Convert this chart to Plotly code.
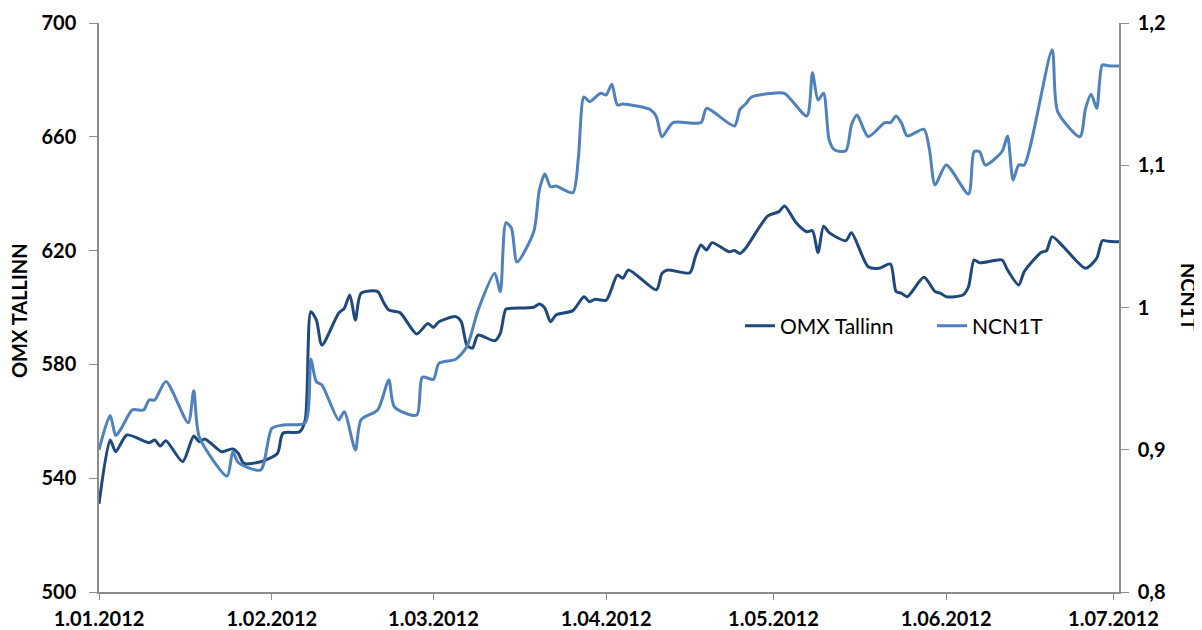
import plotly.graph_objects as go

# ---- data ----
omx_dates = ["2012-01-01","2012-01-03","2012-01-04","2012-01-06","2012-01-10","2012-01-11","2012-01-12","2012-01-13",
             "2012-01-16","2012-01-18","2012-01-19","2012-01-20","2012-01-23","2012-01-25","2012-01-26","2012-01-27",
             "2012-01-30","2012-02-02","2012-02-03","2012-02-06","2012-02-07","2012-02-08","2012-02-09","2012-02-10",
             "2012-02-13","2012-02-14","2012-02-15","2012-02-16","2012-02-17","2012-02-20","2012-02-21","2012-02-22",
             "2012-02-24","2012-02-27","2012-02-29","2012-03-01","2012-03-02","2012-03-05","2012-03-06","2012-03-07",
             "2012-03-08","2012-03-09","2012-03-12","2012-03-13","2012-03-14","2012-03-15","2012-03-19","2012-03-20",
             "2012-03-21","2012-03-22","2012-03-23","2012-03-26","2012-03-28","2012-03-29","2012-03-30","2012-04-01",
             "2012-04-03","2012-04-04","2012-04-05","2012-04-10","2012-04-11","2012-04-12","2012-04-16","2012-04-17",
             "2012-04-18","2012-04-19","2012-04-20","2012-04-23","2012-04-24","2012-04-25","2012-04-26","2012-04-30",
             "2012-05-02","2012-05-03","2012-05-05","2012-05-07","2012-05-08","2012-05-09","2012-05-10","2012-05-11",
             "2012-05-14","2012-05-15","2012-05-18","2012-05-20","2012-05-22","2012-05-23","2012-05-24","2012-05-25",
             "2012-05-28","2012-05-30","2012-05-31","2012-06-01","2012-06-04","2012-06-05","2012-06-06","2012-06-07",
             "2012-06-11","2012-06-12","2012-06-14","2012-06-15","2012-06-18","2012-06-19","2012-06-20","2012-06-22",
             "2012-06-26","2012-06-28","2012-06-29","2012-06-30","2012-07-02"]
omx_values = [531.0,553.4,549.3,555.2,552.5,553.4,551.3,553.2,
              545.8,554.8,552.8,553.8,549.3,550.3,548.7,545.2,
              545.8,548.7,555.8,556.3,560.5,598.5,595.6,586.8,
              598.0,599.7,604.4,595.6,605.0,605.6,602.0,599.1,
              598.2,590.7,594.4,593.0,595.0,596.8,595.0,586.8,
              585.7,590.3,588.3,590.9,599.4,599.7,600.1,601.2,
              599.7,595.0,597.4,598.9,603.8,602.0,602.9,602.6,
              611.4,610.3,613.2,606.2,612.0,613.2,612.2,617.9,
              622.0,620.2,622.8,619.6,620.0,619.0,620.8,632.2,
              633.7,635.7,630.0,626.6,627.0,619.3,628.6,626.3,
              623.5,626.3,614.3,613.8,615.3,605.6,605.0,603.8,
              610.6,605.6,605.0,603.8,604.4,607.3,616.7,615.7,
              616.7,613.2,607.9,612.6,619.3,620.0,624.9,621.4,
              613.8,617.3,623.5,623.3,623.1]

ncn_dates = ["2012-01-01","2012-01-03","2012-01-04","2012-01-05","2012-01-07","2012-01-09","2012-01-10","2012-01-11",
             "2012-01-13","2012-01-17","2012-01-18","2012-01-19","2012-01-24","2012-01-25","2012-01-26","2012-01-30",
             "2012-02-01","2012-02-03","2012-02-07","2012-02-08","2012-02-09","2012-02-10","2012-02-13","2012-02-14",
             "2012-02-16","2012-02-17","2012-02-20","2012-02-22","2012-02-23","2012-02-27","2012-02-28","2012-03-01",
             "2012-03-02","2012-03-05","2012-03-07","2012-03-09","2012-03-12","2012-03-13","2012-03-14","2012-03-15",
             "2012-03-16","2012-03-19","2012-03-20","2012-03-21","2012-03-22","2012-03-23","2012-03-26","2012-03-27",
             "2012-03-28","2012-03-29","2012-03-31","2012-04-01","2012-04-02","2012-04-03","2012-04-04","2012-04-09",
             "2012-04-10","2012-04-11","2012-04-13","2012-04-18","2012-04-19","2012-04-24","2012-04-25","2012-04-26",
             "2012-04-27","2012-05-01","2012-05-03","2012-05-07","2012-05-08","2012-05-09","2012-05-10","2012-05-11",
             "2012-05-12","2012-05-14","2012-05-15","2012-05-16","2012-05-18","2012-05-21","2012-05-22","2012-05-23",
             "2012-05-24","2012-05-25","2012-05-28","2012-05-29","2012-05-30","2012-06-01","2012-06-05","2012-06-06",
             "2012-06-07","2012-06-08","2012-06-11","2012-06-12","2012-06-13","2012-06-14","2012-06-15","2012-06-20",
             "2012-06-21","2012-06-25","2012-06-26","2012-06-27","2012-06-28","2012-06-29","2012-06-30","2012-07-02"]
ncn_values = [0.900,0.924,0.910,0.915,0.928,0.928,0.935,0.935,
              0.948,0.919,0.9415,0.909,0.8815,0.8986,0.891,0.8858,
              0.915,0.9174,0.919,0.9636,0.9478,0.9455,0.921,0.9268,
              0.8998,0.921,0.928,0.949,0.930,0.9244,0.951,0.9495,
              0.9608,0.9636,0.9724,0.998,1.024,1.011,1.0596,1.0557,
              1.032,1.0533,1.0826,1.0939,1.0849,1.0854,1.0807,1.105,
              1.148,1.1447,1.1506,1.1494,1.157,1.1424,1.1431,1.1389,
              1.1341,1.120,1.130,1.130,1.140,1.1276,1.1393,1.143,
              1.1478,1.1506,1.1506,1.1346,1.165,1.1459,1.1506,1.1178,
              1.1107,1.1102,1.1283,1.1353,1.1201,1.130,1.130,1.1346,
              1.1295,1.1206,1.1253,1.1107,1.0861,1.1002,1.0798,1.1095,
              1.1095,1.1002,1.1095,1.1206,1.0896,1.1002,1.1002,1.181,
              1.1377,1.1201,1.140,1.150,1.140,1.1705,1.170,1.1698]

x_tick_vals = ["2012-01-01","2012-02-01","2012-03-01","2012-04-01","2012-05-01","2012-06-01","2012-07-01"]
x_tick_text = ["1.01.2012","1.02.2012","1.03.2012","1.04.2012","1.05.2012","1.06.2012","1.07.2012"]
left_ticks = [500, 540, 580, 620, 660, 700]
right_ticks = [0.8, 0.9, 1.0, 1.1, 1.2]
right_tick_text = ["0,8", "0,9", "1", "1,1", "1,2"]

DARK = "#1F497D"
LIGHT = "#4F81BD"
AXIS = "#8C8C8C"
FONT = "Lato"

fig = go.Figure()
fig.add_trace(go.Scatter(x=omx_dates, y=omx_values, name="OMX Tallinn", mode="lines",
                         line=dict(color=DARK, width=3, shape="spline", smoothing=0.7),
                         yaxis="y", legend="legend"))
fig.add_trace(go.Scatter(x=ncn_dates, y=ncn_values, name="NCN1T", mode="lines",
                         line=dict(color=LIGHT, width=3, shape="spline", smoothing=0.7),
                         yaxis="y2", legend="legend2"))

tickfont = dict(size=20, family=FONT, color="black", weight="bold")
legfont = dict(size=21, family=FONT, color="black")

fig.update_layout(
    width=1194, height=622,
    margin=dict(l=91, r=83, t=15, b=38, autoexpand=False),
    paper_bgcolor="white", plot_bgcolor="white",
    font=dict(family=FONT, color="black"),
    showlegend=True,
    legend=dict(orientation="h", x=0.6284, y=0.4675, xanchor="left", yanchor="middle",
                font=legfont, bgcolor="rgba(0,0,0,0)"),
    legend2=dict(orientation="h", x=0.8167, y=0.4675, xanchor="left", yanchor="middle",
                 font=legfont, bgcolor="rgba(0,0,0,0)"),
    xaxis=dict(type="date", range=["2012-01-01", "2012-07-02"], tickvals=x_tick_vals, ticktext=x_tick_text,
               automargin=False,
               showgrid=False, zeroline=False, showline=True, linecolor=AXIS, linewidth=1.5,
               ticks="outside", ticklen=6, tickcolor=AXIS, tickwidth=1, ticklabelstandoff=2,
               tickfont=dict(size=20, family=FONT, color="black", weight="bold")),
    yaxis=dict(range=[500, 700], tickvals=left_ticks, showgrid=False, zeroline=False, automargin=False,
               showline=True, linecolor=AXIS, linewidth=1.5, ticks="outside", ticklen=8,
               tickcolor=AXIS, tickwidth=1, ticklabelstandoff=9, tickfont=tickfont),
    yaxis2=dict(range=[0.8, 1.2], tickvals=right_ticks, ticktext=right_tick_text, overlaying="y",
                side="right", showgrid=False, zeroline=False, showline=True, linecolor=AXIS,
                automargin=False,
                linewidth=1.5, ticks="outside", ticklen=8, tickcolor=AXIS, tickwidth=1,
                ticklabelstandoff=5, tickfont=tickfont),
    annotations=[
        dict(text="OMX TALLINN", textangle=-90, xref="paper", yref="paper",
             x=-0.0784, y=0.4938, xanchor="center", yanchor="middle", showarrow=False,
             font=dict(size=20, family=FONT, color="black", weight="bold")),
        dict(text="NCN1T", textangle=90, xref="paper", yref="paper",
             x=1.068, y=0.518, xanchor="center", yanchor="middle", showarrow=False,
             font=dict(size=20, family=FONT, color="black", weight="bold")),
    ],
)

fig.write_html("out.html")
